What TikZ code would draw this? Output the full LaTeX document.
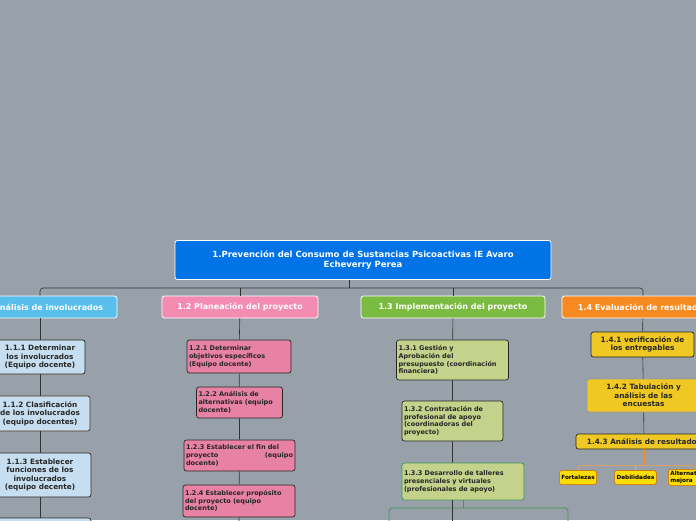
\documentclass[tikz,border=0pt]{standalone}
\usepackage{fontspec}
\setmainfont{DejaVu Sans}
\begin{document}
\begin{tikzpicture}[x=1pt,y=-1pt,
  base/.style={draw, rounded corners=2.5pt, font=\bfseries, align=center, inner sep=2pt},
  top/.style={base, draw=white, line width=0.8pt, text=white, font=\bfseries\fontsize{8}{9}\selectfont, minimum height=22pt},
  kid/.style={base, draw=black!85, line width=0.7pt, text=black!85, font=\bfseries\fontsize{6.5}{7.8}\selectfont},
  kidl/.style={kid, align=left},
  sm/.style={base, draw=orange!80!black, line width=0.5pt, fill=yellow!80!orange, font=\bfseries\fontsize{5.7}{6.5}\selectfont, minimum height=14pt},
  ln/.style={draw=black!80, line width=0.6pt}]
\useasboundingbox (0,0) rectangle (696,520);
\fill[fill={rgb,255:red,152;green,161;blue,170}] (0,0) rectangle (696,520);
\clip (0,0) rectangle (696,520);
\definecolor{rootb}{RGB}{0,115,230}
\definecolor{c1}{RGB}{88,190,235}
\definecolor{c2}{RGB}{244,140,178}
\definecolor{c3}{RGB}{124,187,66}
\definecolor{c4}{RGB}{247,139,34}
\definecolor{k1}{RGB}{198,222,240}
\definecolor{k2}{RGB}{232,130,165}
\definecolor{k3}{RGB}{196,210,140}
\definecolor{k4}{RGB}{240,200,35}
% root
\node[top, fill=rootb, minimum width=376pt, minimum height=39pt, font=\bfseries\fontsize{8.5}{10}\selectfont] (root) at (363,260) {1.Prevención del Consumo de Sustancias Psicoactivas IE Avaro\\Echeverry Perea};
% level 1
\node[top, fill=c1, minimum width=154pt] (a) at (40,307) {1.1 Análisis de involucrados};
\node[top, fill=c2, minimum width=156pt] (b) at (240,307) {1.2 Planeación del proyecto};
\node[top, fill=c3, minimum width=184pt] (c) at (453,307) {1.3 Implementación del proyecto};
\node[top, fill=c4, minimum width=162pt] (d) at (643,307) {1.4 Evaluación de resultados};
\coordinate (j) at (349,288);
\draw[ln] (root.south -| j) -- (j);
\draw[ln,rounded corners=3pt] (a.north) |- (j) -| (d.north);
\draw[ln] (b.north) -- (b.north |- j);
\draw[ln] (c.north) -- (c.north |- j);
% 1.1 children
\node[kid, fill=k1, minimum width=90pt, minimum height=34pt, font=\bfseries\fontsize{7.3}{8.5}\selectfont] (a1) at (40,357) {1.1.1 Determinar\\los involucrados\\(Equipo docente)};
\node[kid, fill=k1, minimum width=100pt, minimum height=35pt, draw=brown!40!black, font=\bfseries\fontsize{7.3}{8.5}\selectfont] (a2) at (40,413.5) {1.1.2 Clasificación\\de los involucrados\\(equipo docentes)};
\node[kid, fill=k1, minimum width=102pt, minimum height=44pt, font=\bfseries\fontsize{7.3}{8.5}\selectfont] (a3) at (40,475) {1.1.3 Establecer\\funciones de los\\involucrados\\(equipo decente)};
\node[kid, fill=k1, minimum width=102pt, minimum height=20pt] (a4) at (40,528) {};
\draw[ln] (a) -- (a1) -- (a2) -- (a3) -- (a4);
% 1.2 children
\node[kidl, fill=k2, text width=100pt, minimum height=33pt] (b1) at (239,356.5) {1.2.1 Determinar\\objetivos específicos\\(Equipo docente)};
\node[kidl, fill=k2, text width=82pt, minimum height=31pt] (b2) at (239.5,402.5) {1.2.2 Análisis de\\alternativas (equipo\\docente)};
\node[kidl, fill=k2, text width=107pt, minimum height=31pt] (b3) at (239.5,455.5) {1.2.3 Establecer el fin del\\proyecto \hfill (equipo\\docente)};
\node[kidl, fill=k2, text width=108pt, minimum height=32pt] (b4) at (239,501) {1.2.4 Establecer propósito\\del proyecto (equipo\\docente)};
\node[kid, fill=k2, minimum width=110pt, minimum height=20pt] (b5) at (239,535) {};
\draw[ln] (b) -- (b1) -- (b2) -- (b3) -- (b4) -- (b5);
% 1.3 children
\node[kidl, fill=k3, text width=108pt, minimum height=40pt] (c1) at (452.5,360) {1.3.1 Gestión y\\Aprobación del\\presupuesto (coordinación\\financiera)};
\node[kidl, fill=k3, text width=97pt, minimum height=40pt] (c2) at (452.5,421) {1.3.2 Contratación de\\profesional de apoyo\\(coordinadoras del\\proyecto)};
\node[kidl, fill=k3, draw={rgb,255:red,60;green,150;blue,90}, text width=118pt, minimum height=37pt] (c3) at (463,481.5) {1.3.3 Desarrollo de talleres\\presenciales y virtuales\\(profesionales de apoyo)};
\node[draw={rgb,255:red,60;green,150;blue,90}, line width=0.8pt, rounded corners=3pt, minimum width=179pt, minimum height=30pt] (c4) at (478.5,523) {};
\coordinate (cend) at (452.5,530);
\draw[ln] (c) -- (c1) -- (c2) -- (c3.north -| c2);
\draw[ln] (c3.south -| c2) -- (cend);
\draw[draw={rgb,255:red,60;green,150;blue,90}, line width=0.8pt] (c3.south) -- (c4.north -| c3);
% 1.4 children
\node[kid, fill=k4, minimum width=103pt, minimum height=25pt, font=\bfseries\fontsize{7.3}{8.5}\selectfont] (d1) at (642.5,344.5) {1.4.1 verificación de\\los entregables};
\node[kid, fill=k4, draw=black!40, minimum width=113pt, minimum height=33pt, font=\bfseries\fontsize{7.3}{8.5}\selectfont] (d2) at (643.5,395.5) {1.4.2 Tabulación y\\análisis de las\\encuestas};
\node[kid, fill=k4, minimum width=136pt, minimum height=15pt, font=\bfseries\fontsize{7.3}{8.5}\selectfont] (d3) at (644,441.5) {1.4.3 Análisis de resultados};
\draw[ln] (d) -- (d1) -- (d2) -- (d3);
\node[sm] (e1) at (578,477.5) {Fortalezas};
\node[sm] (e2) at (635.5,477.5) {Debilidades};
\node[sm, align=left, minimum width=50pt] (e3) at (695,477.5) {Alternativas de\\mejora};
\draw[draw=c4, line width=0.8pt] (d3.south) -- ++(0,16) coordinate (k);
\draw[draw=c4!80!white, line width=0.5pt, rounded corners=3pt] (e1.north) |- (k) -| (e3.north);
\draw[draw=c4!80!white, line width=0.5pt] (e2.north) -- (e2.north |- k);
\end{tikzpicture}
\end{document}
